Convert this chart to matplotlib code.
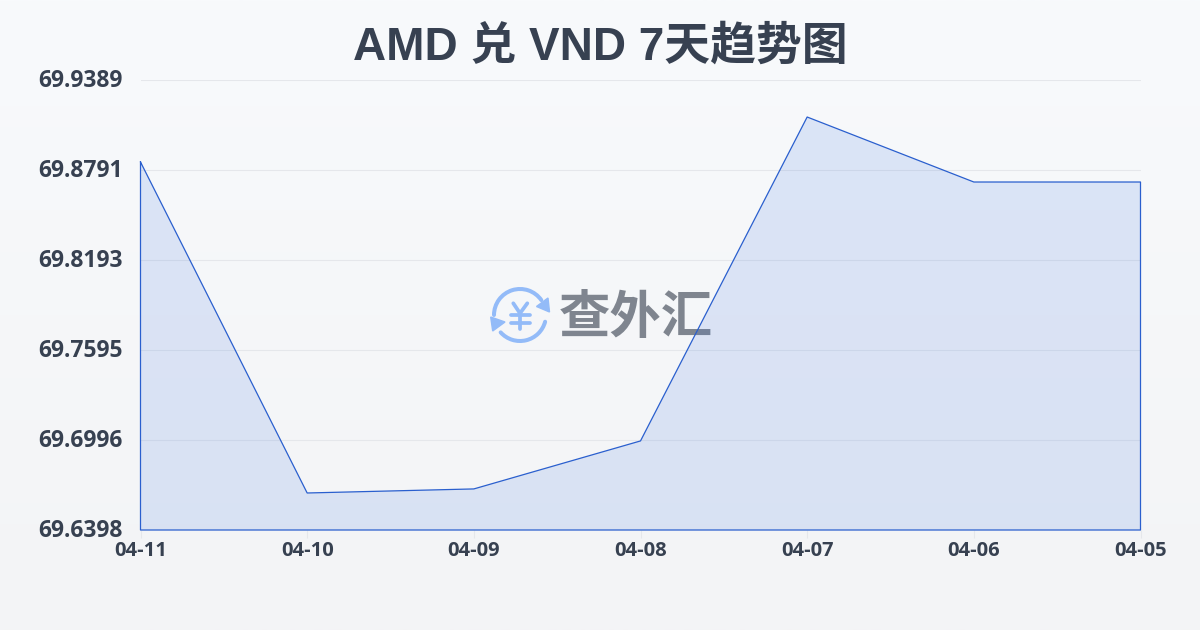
import numpy as np
import matplotlib
matplotlib.use("Agg")
import matplotlib.pyplot as plt
from matplotlib.patches import Arc, Polygon
from matplotlib.transforms import ScaledTranslation

# chart data
dates = ['04-11', '04-10', '04-09', '04-08', '04-07', '04-06', '04-05']
rates = [69.8844, 69.6644, 69.6671, 69.6990, 69.9143, 69.8711, 69.8711]
y_ticks = [69.6398, 69.6996, 69.7595, 69.8193, 69.8791, 69.9389]
title = 'AMD 兑 VND 7天趋势图'
watermark = '查外汇'

W, H = 1200, 630
LINE = '#2a5fce'
FILL = '#3b72e0'
TEXT = '#374151'
GRID = '#e5e7eb'
LOGO = '#93bbf8'
LABEL_FONT = ['Open Sans', 'Noto Sans CJK SC', 'DejaVu Sans']

plt.rcParams['font.family'] = LABEL_FONT

fig = plt.figure(figsize=(W / 100, H / 100), dpi=100)

# background gradient, also used as a pixel canvas for title and watermark
bg = fig.add_axes([0, 0, 1, 1], zorder=0)
grad = np.linspace(0, 1, 256).reshape(-1, 1, 1)
top = np.array([0xf8, 0xfa, 0xfc]) / 255
bottom = np.array([0xf3, 0xf4, 0xf6]) / 255
bg.imshow(top + grad * (bottom - top), extent=[0, W, H, 0], aspect='auto')
bg.set_xlim(0, W)
bg.set_ylim(H, 0)
bg.axis('off')

bg.text(600.5, 47.5, title, ha='center', va='center', fontsize=33, fontweight='bold',
        color=TEXT, family=['Liberation Sans', 'Noto Sans CJK SC'])

# watermark logo
cx, cy = 520, 315
bg.add_patch(Arc((cx, cy), 52, 52, theta1=180, theta2=325, lw=2.9, color=LOGO, capstyle='round'))
bg.add_patch(Arc((cx, cy), 52, 52, theta1=15, theta2=138, lw=2.9, color=LOGO, capstyle='round'))
bg.add_patch(Polygon([(548, 298), (549.5, 312), (536.5, 306.5)], color=LOGO))
bg.add_patch(Polygon([(490.7, 317), (505, 322), (492.7, 331)], color=LOGO))
# yen sign strokes
for xs, ys in [([513.3, 520, 527.3], [303.3, 313.3, 303.3]),
               ([520, 520], [313.3, 329.3]),
               ([510.7, 530], [315, 315]),
               ([510.7, 530], [322.7, 322.7])]:
    bg.plot(xs, ys, color=LOGO, lw=2.7, solid_capstyle='round', solid_joinstyle='round')
bg.text(636, 317, watermark, ha='center', va='center', fontsize=37, fontweight='bold',
        color='#7f858f', family=['Noto Sans CJK SC'])

# main chart
ax = fig.add_axes([140.5 / W, 1 - 530 / H, 1000 / W, 450 / H], zorder=1)
ax.patch.set_alpha(0)
x = np.arange(len(dates))
ax.fill(list(x) + [x[-1], x[0]], rates + [y_ticks[0], y_ticks[0]],
        facecolor=FILL, alpha=0.145, edgecolor='none', zorder=2)
ax.plot(list(x) + [x[-1], x[0], x[0]], rates + [y_ticks[0], y_ticks[0], rates[0]],
        color=LINE, lw=0.9, zorder=3, clip_on=False)

ax.set_xlim(0, len(dates) - 1)
ax.set_ylim(y_ticks[0], y_ticks[-1])
ax.set_xticks(x)
ax.set_xticklabels(dates, fontsize=14.5, fontweight='bold', color=TEXT)
ax.set_yticks(y_ticks)
ax.set_yticklabels([f'{v:.4f}' for v in y_ticks], fontsize=16.5, fontweight='bold', color=TEXT)
ax.tick_params(axis='x', length=6, width=0.8, color=GRID, pad=2)
ax.tick_params(axis='y', length=0, pad=13)
ax.grid(axis='y', color=GRID, lw=0.8)
ax.set_axisbelow(True)
for s in ax.spines.values():
    s.set_visible(False)

# y labels sit about 2px above their gridlines
lift = ScaledTranslation(0, 2 / 100, fig.dpi_scale_trans)
for lab in ax.get_yticklabels():
    lab.set_transform(lab.get_transform() + lift)

fig.savefig('out.png', dpi=100)
